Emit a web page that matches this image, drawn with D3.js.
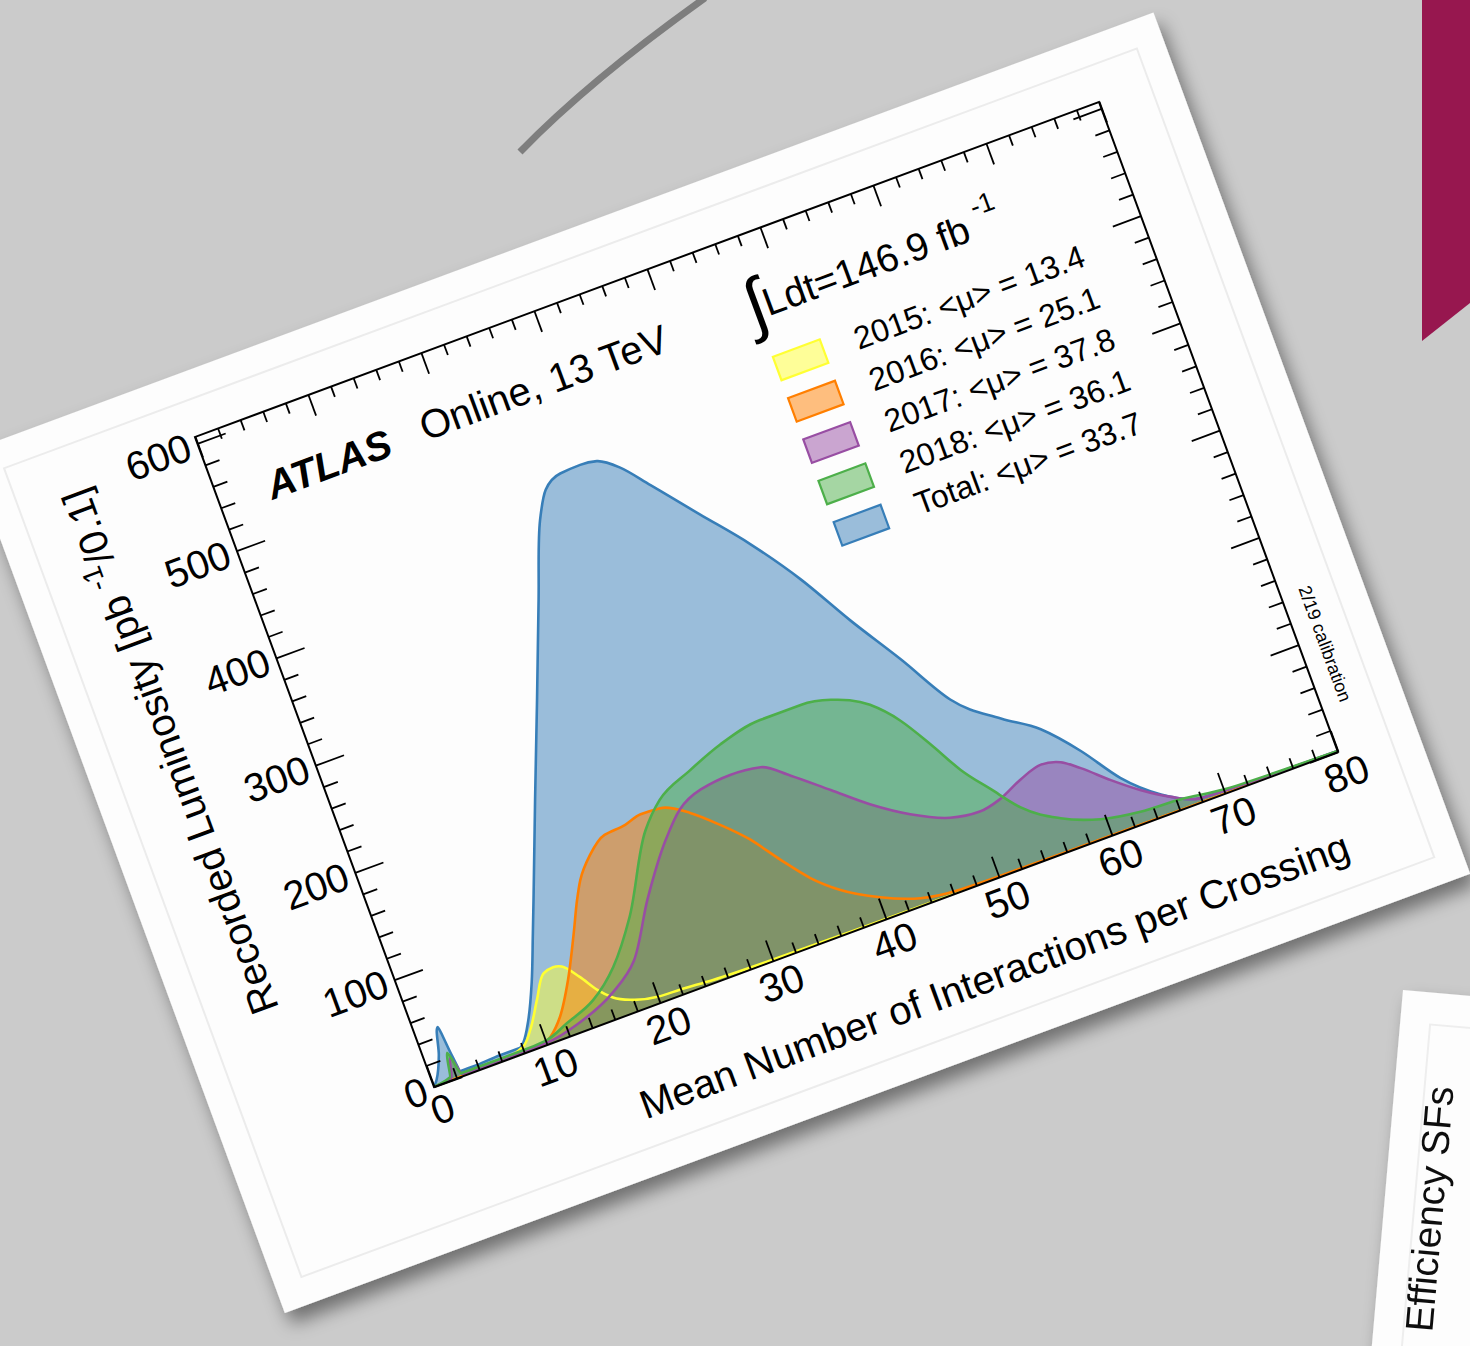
<!DOCTYPE html>
<html>
<head>
<meta charset="utf-8">
<script src="https://cdn.jsdelivr.net/npm/d3@7"></script>
<style>
  body { margin: 0; background: #cbcbcb; overflow: hidden; }
  svg { display: block; }
  text { font-family: "Liberation Sans", Arial, Helvetica, sans-serif; }
</style>
</head>
<body>
<svg id="chart" width="1470" height="1346"></svg>
<script>
// pileup distributions, [mu, recorded lumi in pb^-1/0.1]
const total = [[0,0],[0.4,5],[1.3,25],[2.0,48],[2.3,20],[2.5,5],[4,5],[6,6],[7.8,6],[8.2,9],[9.25,26],[10.6,56],
  [12.1,96],[13.1,123],[16.1,205],[19.1,286],[22.1,368],[24.5,433],[25.8,456],[27.4,465],[29.2,466],[30.6,464],
  [32.2,452],[34.1,428],[37.1,389],[40.2,349],[43.1,305],[45.8,256],[48.6,209],[51.3,161],[54.7,130],[57.5,109],
  [60,79],[62.3,45],[65,19],[68,4],[72,2],[80,1]];
const y2015 = [[0,0],[6,1],[8.1,6],[9.3,20],[10.5,40],[11.8,60],[12.7,62],[13.4,60],[14.5,46],[15.5,30],[16.5,19],
  [18,11],[20,6],[22,5],[24.8,3],[30,1.5],[40,0.5],[50,0],[80,0]];
const y2016 = [[0,0],[5,0.5],[8,0.5],[9.4,1],[11.8,19],[13.5,47],[15.3,84],[16.5,110],[17.3,125],[18.8,143],
  [20.5,155],[22.4,157],[23.9,161],[25.6,160],[27.8,147],[29.8,128],[31.7,107],[33.5,81],[35.3,57],[37.3,38],
  [40.2,20],[43.3,7],[46.6,2],[50,1],[60,0.5],[80,0]];
const y2017 = [[0,0],[1.6,2],[2.1,19],[2.6,2],[5,1],[10.1,2],[13,8],[16.6,23],[19.2,43],[22,89],[25.1,132],
  [27.1,153],[29.3,163],[32,166],[34.6,163],[36.7,147],[39.4,123],[42.1,99],[44.9,79],[47.9,64],[50.4,60],
  [52.3,64],[54.5,74],[56.5,80],[58.1,76],[59.5,65],[61.5,46],[63.5,29],[65.7,14],[67.9,4],[72,2],[80,1]];
const y2018 = [[0,0],[1.5,3],[2.0,24],[2.5,3],[4,3],[8,3],[10,4],[12.2,12],[14.9,23],[17.4,44],[20.1,80],
  [23.8,146],[25.8,167],[29,182],[32.1,194],[35.9,202],[39.5,202],[42,197],[44.9,181],[46.8,159],[48.5,130],
  [50.1,100],[51.9,75],[53.7,51],[56.5,30],[59.6,17],[62.9,11],[66.4,9],[70,4],[75,2],[80,1]];

const drawOrder = [
  {data: total, color: "#377eb8"},
  {data: y2015, color: "#ffff33"},
  {data: y2016, color: "#ff7f00"},
  {data: y2017, color: "#984ea3"},
  {data: y2018, color: "#4daf4a"}
];
const legendLabels = ["2015: <μ> = 13.4", "2016: <μ> = 25.1", "2017: <μ> = 37.8", "2018: <μ> = 36.1", "Total: <μ> = 33.7"];
const legendColors = ["#ffff33", "#ff7f00", "#984ea3", "#4daf4a", "#377eb8"];

const xMajor = d3.range(0, 81, 10);
const xMinor = d3.range(0, 81, 2).filter(v => v % 10 !== 0);
const yMajor = d3.range(0, 601, 100);
const yMinor = d3.range(0, 606, 20).filter(v => v % 100 !== 0);

const W = 964, H = 692;
const svg = d3.select("#chart");

// drop shadow
const defs = svg.append("defs");
const sh = defs.append("filter").attr("id", "shadow").attr("x", "-10%").attr("y", "-10%").attr("width", "130%").attr("height", "130%");
sh.append("feDropShadow").attr("dx", 7).attr("dy", 11).attr("stdDeviation", 9)
  .attr("flood-color", "#000").attr("flood-opacity", 0.45);

// background bits
svg.append("path").attr("d", "M520,152 Q590,80 705,-2")
  .attr("fill", "none").attr("stroke", "#7e7e7e").attr("stroke-width", 7);
svg.append("polygon").attr("points", "1422,0 1470,0 1470,303 1422,341").attr("fill", "#97174f");

// second card bottom right
const card2 = svg.append("g").attr("filter", "url(#shadow)")
  .append("g").attr("transform", "translate(1403,990) rotate(5)");
card2.append("rect").attr("width", 300).attr("height", 500).attr("fill", "#fdfdfd");
card2.append("rect").attr("x", 30).attr("y", 32).attr("width", 300).attr("height", 500)
  .attr("fill", "none").attr("stroke", "#eeeeee").attr("stroke-width", 2);
card2.append("text").attr("transform", "translate(59,339) rotate(-90)")
  .attr("font-size", 39).attr("fill", "#111").text("Efficiency SFs");

// main card, rotated plot frame
const m = "matrix(0.93776,-0.34751,0.34538,0.93931,434,1087)";
svg.append("g").attr("filter", "url(#shadow)")
  .append("g").attr("transform", m)
  .append("rect").attr("x", -218).attr("y", -757).attr("width", 1264).attr("height", 917).attr("fill", "#fdfdfd");

const g = svg.append("g").attr("transform", m);
g.append("rect").attr("x", -190).attr("y", -729).attr("width", 1208).attr("height", 861)
  .attr("fill", "none").attr("stroke", "#ececec").attr("stroke-width", 2);

const x = d3.scaleLinear().domain([0, 80]).range([0, W]);
const y = d3.scaleLinear().domain([0, 606]).range([0, -H]);

defs.append("clipPath").attr("id", "plotclip").append("rect")
  .attr("x", 0).attr("y", -H).attr("width", W).attr("height", H);

const area = d3.area().x(d => x(d[0])).y0(y(0)).y1(d => y(d[1])).curve(d3.curveMonotoneX);
const line = d3.line().x(d => x(d[0])).y(d => y(d[1])).curve(d3.curveMonotoneX);

const plot = g.append("g").attr("clip-path", "url(#plotclip)");
drawOrder.forEach(s => {
  plot.append("path").attr("d", area(s.data)).attr("fill", s.color).attr("fill-opacity", 0.5);
});
drawOrder.forEach(s => {
  plot.append("path").attr("d", line(s.data)).attr("fill", "none")
    .attr("stroke", s.color).attr("stroke-width", 2.6).attr("stroke-linejoin", "round");
});

// axes (ROOT style, ticks inside)
function styleAxis(sel, labels) {
  sel.select(".domain").remove();
  sel.selectAll("line").attr("stroke", "#000").attr("stroke-width", 1.8);
  if (labels) sel.attr("font-size", 40).attr("font-family", "Liberation Sans, Arial, sans-serif")
    .selectAll("text").attr("fill", "#000");
}
g.append("g").call(d3.axisBottom(x).tickValues(xMajor).tickSize(-22).tickPadding(9)).call(s => styleAxis(s, true));
g.append("g").call(d3.axisBottom(x).tickValues(xMinor).tickSize(-11).tickFormat("")).call(s => styleAxis(s));
g.append("g").attr("transform", `translate(0,${-H})`)
  .call(d3.axisTop(x).tickValues(xMajor).tickSize(-22).tickFormat("")).call(s => styleAxis(s));
g.append("g").attr("transform", `translate(0,${-H})`)
  .call(d3.axisTop(x).tickValues(xMinor).tickSize(-11).tickFormat("")).call(s => styleAxis(s));
g.append("g").call(d3.axisLeft(y).tickValues(yMajor).tickSize(-30).tickPadding(8)).call(s => styleAxis(s, true));
g.append("g").call(d3.axisLeft(y).tickValues(yMinor).tickSize(-15).tickFormat("")).call(s => styleAxis(s));
g.append("g").attr("transform", `translate(${W},0)`)
  .call(d3.axisRight(y).tickValues(yMajor).tickSize(-30).tickFormat("")).call(s => styleAxis(s));
g.append("g").attr("transform", `translate(${W},0)`)
  .call(d3.axisRight(y).tickValues(yMinor).tickSize(-15).tickFormat("")).call(s => styleAxis(s));

g.append("rect").attr("x", 0).attr("y", -H).attr("width", W).attr("height", H)
  .attr("fill", "none").attr("stroke", "#000").attr("stroke-width", 2);

// axis titles
g.append("text").attr("x", 941).attr("y", 104).attr("text-anchor", "end").attr("font-size", 40)
  .text("Mean Number of Interactions per Crossing");
const yt = g.append("text").attr("transform", "translate(-118,-684) rotate(-90)")
  .attr("text-anchor", "end").attr("font-size", 40);
yt.append("tspan").text("Recorded Luminosity [pb ");
yt.append("tspan").attr("font-size", 28).attr("dy", -16).text("-1");
yt.append("tspan").attr("dy", 16).text("/0.1]");

// labels
g.append("text").attr("x", 51).attr("y", -606).attr("font-size", 40)
  .attr("font-weight", "bold").attr("font-style", "italic").text("ATLAS");
g.append("text").attr("x", 215).attr("y", -608).attr("font-size", 40).text("Online, 13 TeV");
g.append("text").attr("x", 562).attr("y", -598).attr("font-size", 70)
  .attr("font-family", "DejaVu Sans, sans-serif").text("∫");
const lum = g.append("text").attr("x", 580).attr("y", -606).attr("font-size", 39);
lum.append("tspan").text("Ldt=146.9 fb");
lum.append("tspan").attr("dx", 9).attr("dy", -22).attr("font-size", 27).text("-1");
g.append("text").attr("transform", "translate(983,-167) rotate(90)").attr("font-size", 18)
  .text("2/19 calibration");

// legend
const leg = g.append("g");
legendLabels.forEach((lab, i) => {
  const cy = -554 + i * 44;
  leg.append("rect").attr("x", 570).attr("y", cy - 12.5).attr("width", 50).attr("height", 25)
    .attr("fill", legendColors[i]).attr("fill-opacity", 0.5)
    .attr("stroke", legendColors[i]).attr("stroke-width", 2.2);
  leg.append("text").attr("x", 653).attr("y", cy + 11).attr("font-size", 32).text(lab);
});
</script>
</body>
</html>
